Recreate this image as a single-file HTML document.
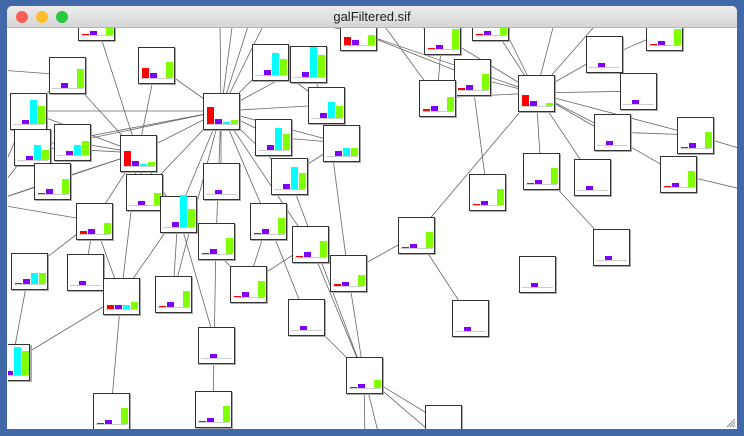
<!DOCTYPE html>
<html><head><meta charset="utf-8">
<style>
html,body{margin:0;padding:0;background:#4168a8;width:744px;height:436px;overflow:hidden}
#win{position:absolute;left:7px;top:6px;width:730px;height:423px;background:#fff;border-radius:5px 5px 0 0;overflow:hidden}
#tb{position:absolute;left:0;top:0;width:730px;height:21px;background:linear-gradient(#ececec,#d6d6d6);border-bottom:1px solid #b4b4b4;text-align:center;font:13px "Liberation Sans",sans-serif;line-height:21px;color:#222;z-index:2}
.d{position:absolute;top:5px;width:12px;height:12px;border-radius:50%}
#cv{position:absolute;left:1px;top:22px;width:729px;height:401px;overflow:hidden}
</style></head><body>
<div id="win">
<div id="tb"><span class="d" style="left:9px;background:#fc5f57"></span><span class="d" style="left:29px;background:#fdbc2e"></span><span class="d" style="left:49px;background:#29c840"></span>galFiltered.sif</div>
<div id="cv"><svg id="s" width="729" height="401" viewBox="8 28 729 401" xmlns="http://www.w3.org/2000/svg"></svg></div>
</div>
<script>
var N=[null,
[78,4,[1,4,0,12]],[49,57,[0,5,0,19]],[138,47,[10,5,0,16]],[10,93,[0,4,24,18]],[14,129,[0,4,15,10]],
[54,124,[0,4,10,14]],[120,135,[15,5,2,4]],[203,93,[17,5,2,4]],[252,44,[0,5,22,16]],[290,46,[0,5,30,22]],
[340,14,[8,5,0,10]],[424,18,[1,4,0,20]],[472,4,[1,4,0,10]],[646,14,[1,4,0,16]],[454,59,[2,5,0,16]],
[419,80,[2,5,0,14]],[518,75,[11,5,0,3]],[586,36,[0,4,0,0]],[620,73,[0,4,0,0]],[594,114,[0,4,0,0]],
[677,117,[1,5,0,16]],[660,156,[1,4,0,16]],[574,159,[0,4,0,0]],[523,153,[1,4,0,16]],[469,174,[1,4,0,16]],
[398,217,[1,4,0,16]],[593,229,[0,4,0,0]],[519,256,[0,4,0,0]],[452,300,[0,4,0,0]],[308,87,[0,5,16,12]],
[323,125,[0,5,8,8]],[255,119,[0,5,22,16]],[271,158,[0,5,22,16]],[203,163,[0,4,0,0]],[126,174,[0,4,0,12]],
[160,196,[0,5,32,18]],[34,163,[1,5,0,15]],[76,203,[3,5,0,11]],[198,223,[1,5,0,16]],[250,203,[1,5,0,16]],
[292,226,[1,5,0,16]],[330,255,[2,4,0,11]],[230,266,[1,5,0,16]],[11,253,[1,5,11,11]],[67,254,[0,4,0,0]],
[103,278,[4,4,4,7]],[155,276,[1,5,0,16]],[288,299,[0,4,0,0]],[198,327,[0,4,0,0]],[346,357,[1,4,0,8]],
[-6,344,[0,4,28,24]],[93,393,[1,4,0,16]],[195,391,[1,4,0,16]],[425,405,[0,0,0,0]],[-30,185,[0,0,0,0]]];
var E=[[8,3],[8,7],[8,9],[8,10],[8,30],[8,31],[8,32],[8,33],[8,34],[8,35],[8,36],[8,39],[8,40],[8,41],[8,6],[8,5],[8,4],[8,47],
[17,13],[17,15],[17,16],[17,12],[17,18],[17,19],[17,20],[17,21],[17,22],[17,23],[17,24],[17,26],[17,11],
[1,7],[3,7],[2,7],[2,4],[7,4],[7,5],[7,6],[7,37],[7,38],[7,35],[7,36],[7,46],[7,55],
[36,46],[36,39],[46,51],[46,38],[46,52],[50,42],[50,41],[50,48],[50,33],[26,29],[26,42],[24,27],[20,21],
[39,53],[43,40],[45,38],[44,38],[55,37],[47,36],[49,36],[16,12],[11,15],[32,31],[30,31],[33,31],[9,30],[10,30],
[15,25],[44,51],[41,43],[40,48],[42,30],[50,54],[36,43],[38,55],[4,55],[5,55]];
var X=[[8,220,20],[8,233,20],[8,250,20],[8,266,20],[17,555,20],[17,600,20],[17,500,20],[21,745,150],[22,745,190],[14,600,60],
[50,365,440],[50,380,440],[50,440,440],[2,0,70],[11,290,20],[12,405,20],[16,380,20],[53,230,440],[52,120,440]];
var s='',C=['#ff0000','#8000ff','#00ffff','#80ff00'];
function c(i){return [N[i][0]+18,N[i][1]+18];}
E.forEach(function(e){var a=c(e[0]),b=c(e[1]);s+='<line x1="'+a[0]+'" y1="'+a[1]+'" x2="'+b[0]+'" y2="'+b[1]+'" stroke="#666" stroke-width="0.8"/>';});
X.forEach(function(e){var a=c(e[0]);s+='<line x1="'+a[0]+'" y1="'+a[1]+'" x2="'+e[1]+'" y2="'+e[2]+'" stroke="#666" stroke-width="0.8"/>';});
for(var i=1;i<N.length;i++){var x=N[i][0],y=N[i][1],b=N[i][2];
s+='<rect x="'+(x+1)+'" y="'+(y+1)+'" width="37" height="37" fill="#aaa"/>';
s+='<rect x="'+x+'.5" y="'+y+'.5" width="36" height="36" fill="#fff" stroke="#333" stroke-width="1"/>';
s+='<line x1="'+(x+3)+'" y1="'+(y+31.5)+'" x2="'+(x+34)+'" y2="'+(y+31.5)+'" stroke="#ccc"/>';
for(var k=0;k<4;k++){if(b[k]>0){s+='<rect x="'+(x+4+k*8)+'" y="'+(y+31-b[k])+'" width="7" height="'+b[k]+'" fill="'+C[k]+'"/>';}}}
document.getElementById('s').innerHTML=s;
</script>
<svg style="position:absolute;left:726px;top:418px" width="10" height="10"><path d="M1 9L9 1M4 9L9 4M7 9L9 7" stroke="#888"/></svg>
</body></html>
